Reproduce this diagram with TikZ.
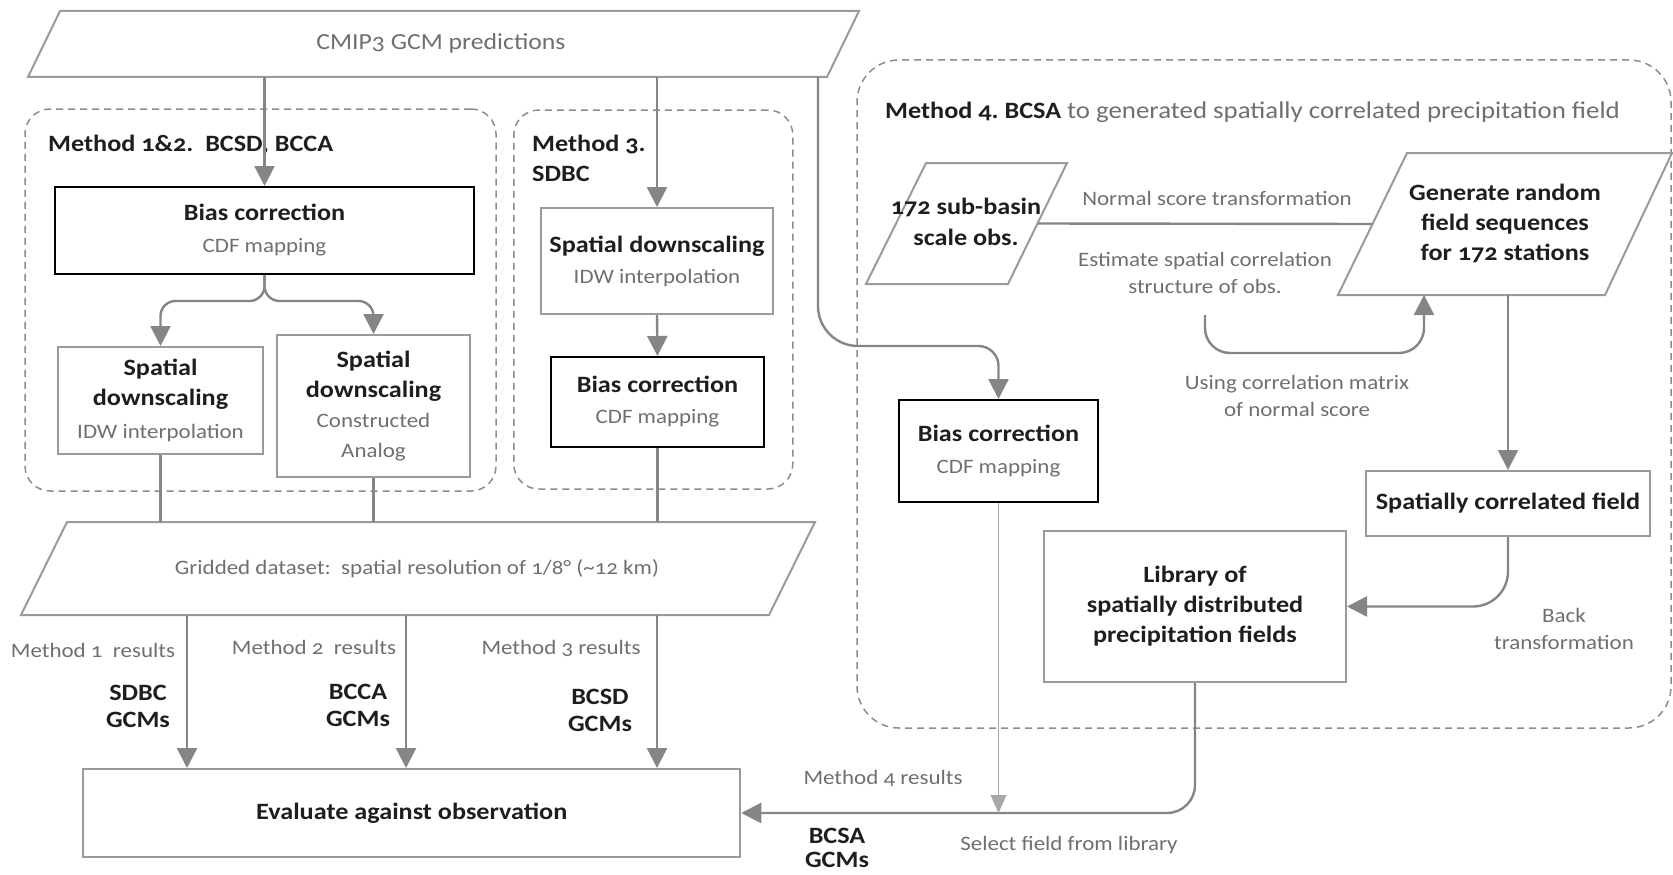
\documentclass[tikz,border=0pt]{standalone}
\usepackage{fontspec}
\setmainfont{Carlito}[Numbers=OldStyle,FakeStretch=1.12]
\usetikzlibrary{arrows.meta,calc}
\definecolor{lgray}{HTML}{858585}
\definecolor{bgray}{HTML}{9A9A9A}
\definecolor{tgray}{HTML}{6F6F6F}
\definecolor{tblack}{HTML}{1E1E1E}
\definecolor{dgray}{HTML}{8C8C8C}
\definecolor{thgray}{HTML}{A8A8A8}
\newcommand{\gl}[1]{{\mdseries\color{tgray}\fontsize{20.5}{27}\selectfont #1}}
\frenchspacing
\begin{document}
\begin{tikzpicture}[x=1pt,y=-1pt,
 conn/.style={draw=lgray,line width=2.4pt},
 arr/.style={conn,-{Triangle[length=20pt,width=20pt]}},
 thinarr/.style={draw=thgray,line width=1.2pt,-{Triangle[length=18pt,width=16pt]}},
 gbox/.style={draw=bgray,line width=2pt,inner sep=0pt,align=center,text=tblack,font=\fontsize{23.4}{30}\selectfont\bfseries},
 kbox/.style={gbox,draw=black},
 dbox/.style={draw=dgray,line width=1.5pt,dash pattern=on 7pt off 5pt,rounded corners=25pt,inner sep=0pt},
 para/.style={draw=bgray,line width=2pt},
 glab/.style={text=tgray,font=\fontsize{20.5}{27}\selectfont,align=center,inner sep=0pt},
 blab/.style={text=tblack,font=\fontsize{23.4}{27}\selectfont\bfseries,align=center,inner sep=0pt},
]
\useasboundingbox (0,0) rectangle (1673,875);

% dashed method frames
\node[dbox,minimum width=471pt,minimum height=382pt] (m12) at (260.5,300) {};
\node[dbox,minimum width=279pt,minimum height=379pt] (m3) at (653.3,299.5) {};
\node[dbox,rounded corners=42pt,minimum width=814pt,minimum height=668pt] (m4) at (1264,394) {};

% CMIP3 parallelogram
\coordinate (cmipTL) at (60,11);
\coordinate (cmipTR) at (859,11);
\coordinate (cmipBR) at (827,77);
\coordinate (cmipBL) at (28,77);
\draw[para] (cmipBL) -- (cmipTL) -- (cmipTR) -- (cmipBR) -- cycle;
\node[glab,font=\fontsize{23}{27}\selectfont] (cmip) at (441,43) {CMIP3 GCM predictions};

% Method titles
\node[blab,anchor=west] (t12) at (48,145) {Method 1\&2.\ \ BCSD, BCCA};
\node[blab,anchor=west,align=left,font=\fontsize{23.4}{30}\selectfont\bfseries] (t3) at (532,158) {Method 3.\\SDBC};
\node[anchor=west,inner sep=0pt,text=tgray,font=\fontsize{24}{27}\selectfont] (t4) at (885,112) {{\fontsize{23.4}{27}\selectfont\bfseries\color{tblack}Method 4. BCSA} to generated spatially correlated precipitation field};

% boxes
\node[kbox,minimum width=419pt,minimum height=87pt] (bc1) at (264.5,230.5) {Bias correction\\[2pt]\gl{CDF mapping}};
\node[gbox,minimum width=205pt,minimum height=107pt] (sd1) at (160.5,400.5) {Spatial\\downscaling\\[3pt]\gl{IDW interpolation}};
\node[gbox,minimum width=193pt,minimum height=142pt] (sd2) at (373.5,406) {Spatial\\downscaling\\\gl{Constructed}\\\gl{Analog}};
\node[gbox,minimum width=232pt,minimum height=106pt] (sd3) at (657,261) {Spatial downscaling\\[1pt]\gl{IDW interpolation}};
\node[kbox,minimum width=213pt,minimum height=90pt] (bc3) at (657.5,402) {Bias correction\\[1pt]\gl{CDF mapping}};
\node[kbox,minimum width=199pt,minimum height=102pt] (bc4) at (998.5,451) {Bias correction\\[2pt]\gl{CDF mapping}};
\node[gbox,minimum width=657pt,minimum height=88pt] (eval) at (411.75,813) {Evaluate against observation};
\node[gbox,minimum width=302pt,minimum height=151pt] (lib) at (1195,606.5) {Library of\\spatially distributed\\precipitation fields};
\node[gbox,minimum width=284pt,minimum height=65pt] (scf) at (1508,503.5) {Spatially correlated field};

% gridded parallelogram
\coordinate (gridTL) at (67,522);
\coordinate (gridTR) at (815,522);
\coordinate (gridBR) at (769,615);
\coordinate (gridBL) at (21,615);
\draw[para] (gridBL) -- (gridTL) -- (gridTR) -- (gridBR) -- cycle;
\node[glab] (grid) at (417,569) {Gridded dataset:\ \ spatial resolution of 1/8\textdegree\ (\textasciitilde12 km)};

% obs parallelogram
\coordinate (obsTL) at (926,163);
\coordinate (obsTR) at (1067,163);
\coordinate (obsBR) at (1008,284);
\coordinate (obsBL) at (866,284);
\draw[para] (obsBL) -- (obsTL) -- (obsTR) -- (obsBR) -- cycle;
\node[blab,font=\fontsize{23.4}{31}\selectfont\bfseries] (obs) at (966,222) {172 sub-basin\\scale obs.};

% generate parallelogram
\coordinate (genTL) at (1407,153);
\coordinate (genTR) at (1672,153);
\coordinate (genBR) at (1605,295);
\coordinate (genBL) at (1338,295);
\draw[para] (genBL) -- (genTL) -- (genTR) -- (genBR) -- cycle;
\node[blab,font=\fontsize{23.4}{30}\selectfont\bfseries] (gen) at (1505,223) {Generate random\\field sequences\\for 172 stations};

% connectors, methods 1-3
\draw[arr] (bc1.north |- cmipBL) -- (bc1.north);
\draw[arr] (sd3.north |- cmipBL) -- (sd3.north);
\draw[arr,rounded corners=15pt] (bc1.south) -- ++(0,26) -| (sd1.north);
\draw[arr,rounded corners=15pt] (bc1.south) -- ++(0,26) -| (sd2.north);
\draw[arr] (sd3.south) -- (bc3.north);
\draw[conn] (sd1.south) -- (sd1.south |- gridTL);
\draw[conn] (sd2.south) -- (sd2.south |- gridTL);
\draw[conn] (bc3.south) -- (bc3.south |- gridTL);
\coordinate (g1) at (187,615);
\coordinate (g2) at (406,615);
\coordinate (g3) at (657,615);
\draw[arr] (g1) -- (g1 |- eval.north);
\draw[arr] (g2) -- (g2 |- eval.north);
\draw[arr] (g3) -- (g3 |- eval.north);

% method 4 connectors
\coordinate (m4tap) at (818,77);
\draw[arr] (m4tap) [rounded corners=40pt] -- (818,346) [rounded corners=20pt] -- (bc4.north |- 0,346) -- (bc4.north);
\draw[conn] ($(obsBR)!0.5!(obsTR)$) -- ($(genBL)!0.5!(genTL)$);
\coordinate (ustart) at (1205,315);
\coordinate (uend) at (1424,295);
\draw[arr,rounded corners=25pt] (ustart) |- ($(uend)+(0,58)$) -- (uend);
\draw[arr] (scf.north |- genBL) -- (scf.north);
\draw[arr,rounded corners=35pt] (scf.south) |- (lib.east);
\draw[arr,rounded corners=28pt] (lib.south) |- (eval.east);
\draw[thinarr] (bc4.south) -- (bc4.south |- eval.east);

% labels
\node[glab] (lnst) at (1217,198) {Normal score transformation};
\node[glab] (lest) at (1205,273) {Estimate spatial correlation\\structure of obs.};
\node[glab] (lucm) at (1297,396) {Using correlation matrix\\of normal score};
\node[glab] (lback) at (1564,629) {Back\\transformation};
\node[glab] (lm1) at (93,650) {Method 1\ \ results};
\node[blab] (lg1) at (138,706) {SDBC\\GCMs};
\node[glab] (lm2) at (314,647) {Method 2\ \ results};
\node[blab] (lg2) at (358,705) {BCCA\\GCMs};
\node[glab] (lm3) at (561,648) {Method 3 results};
\node[blab] (lg3) at (600,710) {BCSD\\GCMs};
\node[glab] (lm4) at (883,778) {Method 4 results};
\node[blab,font=\fontsize{23.4}{24}\selectfont\bfseries] (lg4) at (837,848) {BCSA\\GCMs};
\node[glab] (lsel) at (1069,845) {Select field from library};
\end{tikzpicture}
\end{document}
